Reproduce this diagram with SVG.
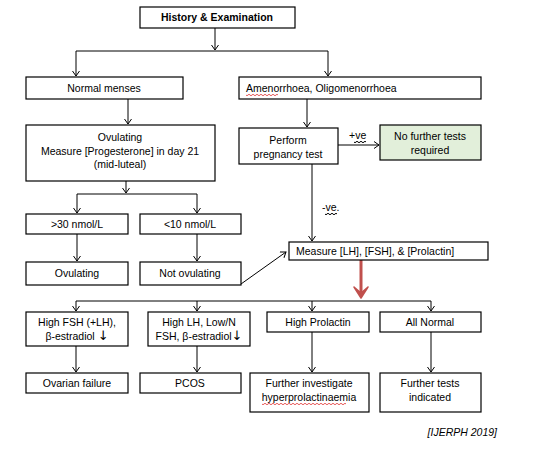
<svg xmlns="http://www.w3.org/2000/svg" width="542" height="458" viewBox="0 0 542 458">
<defs>
<marker id="v" markerWidth="8" markerHeight="8" refX="6" refY="4" orient="auto" markerUnits="userSpaceOnUse">
<path d="M1,0.5 L6,4 L1,7.5" fill="none" stroke="#000" stroke-width="1"/>
</marker>
<style>
rect{fill:#fff;stroke:#000;stroke-width:1.2}
text{font-family:"Liberation Sans",Arial,sans-serif;font-size:10.5px;fill:#000}
.c{text-anchor:middle}
.b{font-weight:bold}
.ar{font-size:13px;font-family:"DejaVu Sans",sans-serif}
.con path{fill:none;stroke:#000;stroke-width:1}
.sq{fill:none;stroke:#e03030;stroke-width:0.8}
</style>
</defs>
<rect x="0" y="0" width="542" height="458" style="fill:#fff;stroke:none"/>
<g id="connectors" class="con">
<path d="M215,28 V50" marker-end="url(#v)"/>
<path d="M76,51 H328"/>
<path d="M76,51 V76" marker-end="url(#v)"/>
<path d="M328,51 V76" marker-end="url(#v)"/>
<path d="M128,99 V124" marker-end="url(#v)"/>
<path d="M307,99 V127" marker-end="url(#v)"/>
<path d="M338,145 H379" marker-end="url(#v)"/>
<path d="M126,181 V193" marker-end="url(#v)"/>
<path d="M77,194 H197"/>
<path d="M77,194 V213" marker-end="url(#v)"/>
<path d="M197,194 V213" marker-end="url(#v)"/>
<path d="M77,234 V261" marker-end="url(#v)"/>
<path d="M197,234 V261" marker-end="url(#v)"/>
<path d="M241,284 L286,252" marker-end="url(#v)"/>
<path d="M312,164 V241" marker-end="url(#v)"/>
<path d="M76,301 H431"/>
<path d="M76,301 V311" marker-end="url(#v)"/>
<path d="M197,301 V311" marker-end="url(#v)"/>
<path d="M312,301 V311" marker-end="url(#v)"/>
<path d="M431,301 V311" marker-end="url(#v)"/>
<path d="M76,346 V372" marker-end="url(#v)"/>
<path d="M197,346 V372" marker-end="url(#v)"/>
<path d="M312,332 V372" marker-end="url(#v)"/>
<path d="M431,332 V372" marker-end="url(#v)"/>
<path d="M361,260 V293" style="stroke:#c0504d;stroke-width:3"/>
<path d="M354,287 L361,298 L368,287 L361,293 Z" style="fill:#c0504d;stroke:#c0504d;stroke-width:1.5;stroke-linejoin:round"/>
<text x="349" y="139">+ve</text>
<path class="sq" d="M354,142 q1,1.5 2,0 t2,0 t2,0 t2,0 t2,0 t2,0"/>
<text x="322" y="211">-ve.</text>
<path class="sq" d="M325,214 q1,1.5 2,0 t2,0 t2,0 t2,0 t2,0 t2,0"/>
</g>
<g id="history"><rect x="140" y="7" width="155" height="21"/><text class="c b" x="217" y="21">History &amp; Examination</text></g>
<g id="normal"><rect x="26" y="77" width="157" height="22"/><text class="c" x="104" y="92">Normal menses</text></g>
<g id="amen"><rect x="239" y="77" width="242" height="22"/><text x="246" y="92">Amenorrhoea, Oligomenorrhoea</text>
<path class="sq" d="M246,95 q1,1.5 2,0 t2,0 t2,0 t2,0 t2,0 t2,0 t2,0 t2,0 t2,0 t2,0 t2,0 t2,0 t2,0 t2,0 t2,0 t2,0"/></g>
<g id="progesterone"><rect x="26" y="125" width="189" height="56"/>
<text class="c" x="120" y="141">Ovulating</text>
<text class="c" x="120" y="155">Measure  [Progesterone] in day 21</text>
<text class="c" x="120" y="168">(mid-luteal)</text></g>
<g id="pregnancy"><rect x="239" y="128" width="99" height="36"/>
<text class="c" x="288" y="144">Perform</text><text class="c" x="288" y="158">pregnancy test</text></g>
<g id="nofurther"><rect x="380" y="125" width="101" height="35" style="fill:#e2efda"/>
<text class="c" x="430" y="140">No further tests</text><text class="c" x="430" y="154">required</text></g>
<g id="gt30"><rect x="26" y="214" width="102" height="20"/><text class="c" x="77" y="228">&gt;30 nmol/L</text></g>
<g id="lt10"><rect x="140" y="214" width="101" height="20"/><text class="c" x="190" y="228">&lt;10 nmol/L</text></g>
<g id="ovulating"><rect x="26" y="262" width="102" height="23"/><text class="c" x="77" y="277">Ovulating</text></g>
<g id="notovulating"><rect x="140" y="262" width="101" height="23"/><text class="c" x="190" y="277">Not ovulating</text></g>
<g id="measure"><rect x="289" y="242" width="199" height="18"/><text x="296" y="255">Measure  [LH], [FSH], &amp; [Prolactin]</text></g>
<g id="highfsh"><rect x="26" y="312" width="102" height="34"/>
<text class="c" x="77" y="326">High FSH (+LH),</text><text class="c" x="77" y="340">β-estradiol <tspan class="ar">↓</tspan></text></g>
<g id="highlh"><rect x="148" y="312" width="102" height="34"/>
<text class="c" x="199" y="326">High LH, Low/N</text><text class="c" x="199" y="340">FSH, β-estradiol<tspan class="ar">↓</tspan></text></g>
<g id="highprl"><rect x="267" y="312" width="102" height="20"/><text class="c" x="318" y="326">High Prolactin</text></g>
<g id="allnormal"><rect x="380" y="312" width="101" height="20"/><text class="c" x="430" y="326">All Normal</text></g>
<g id="ovarian"><rect x="26" y="373" width="102" height="20"/><text class="c" x="77" y="387">Ovarian  failure</text></g>
<g id="pcos"><rect x="140" y="373" width="101" height="20"/><text class="c" x="190" y="387">PCOS</text></g>
<g id="hyperprl"><rect x="250" y="373" width="119" height="39"/>
<text class="c" x="309" y="387">Further investigate</text><text class="c" x="309" y="401">hyperprolactinaemia</text>
<path class="sq" d="M262,404 q1,1.5 2,0 t2,0 t2,0 t2,0 t2,0 t2,0 t2,0 t2,0 t2,0 t2,0 t2,0 t2,0 t2,0 t2,0 t2,0 t2,0 t2,0 t2,0 t2,0 t2,0 t2,0 t2,0 t2,0 t2,0 t2,0 t2,0 t2,0 t2,0 t2,0 t2,0 t2,0 t2,0 t2,0 t2,0 t2,0 t2,0 t2,0 t2,0 t2,0 t2,0 t2,0 t2,0"/></g>
<g id="furthertests"><rect x="380" y="373" width="101" height="39"/>
<text class="c" x="430" y="387">Further tests</text><text class="c" x="430" y="401">indicated</text></g>
<text x="497" y="436" style="text-anchor:end;font-style:italic">[IJERPH 2019]</text>
</svg>
